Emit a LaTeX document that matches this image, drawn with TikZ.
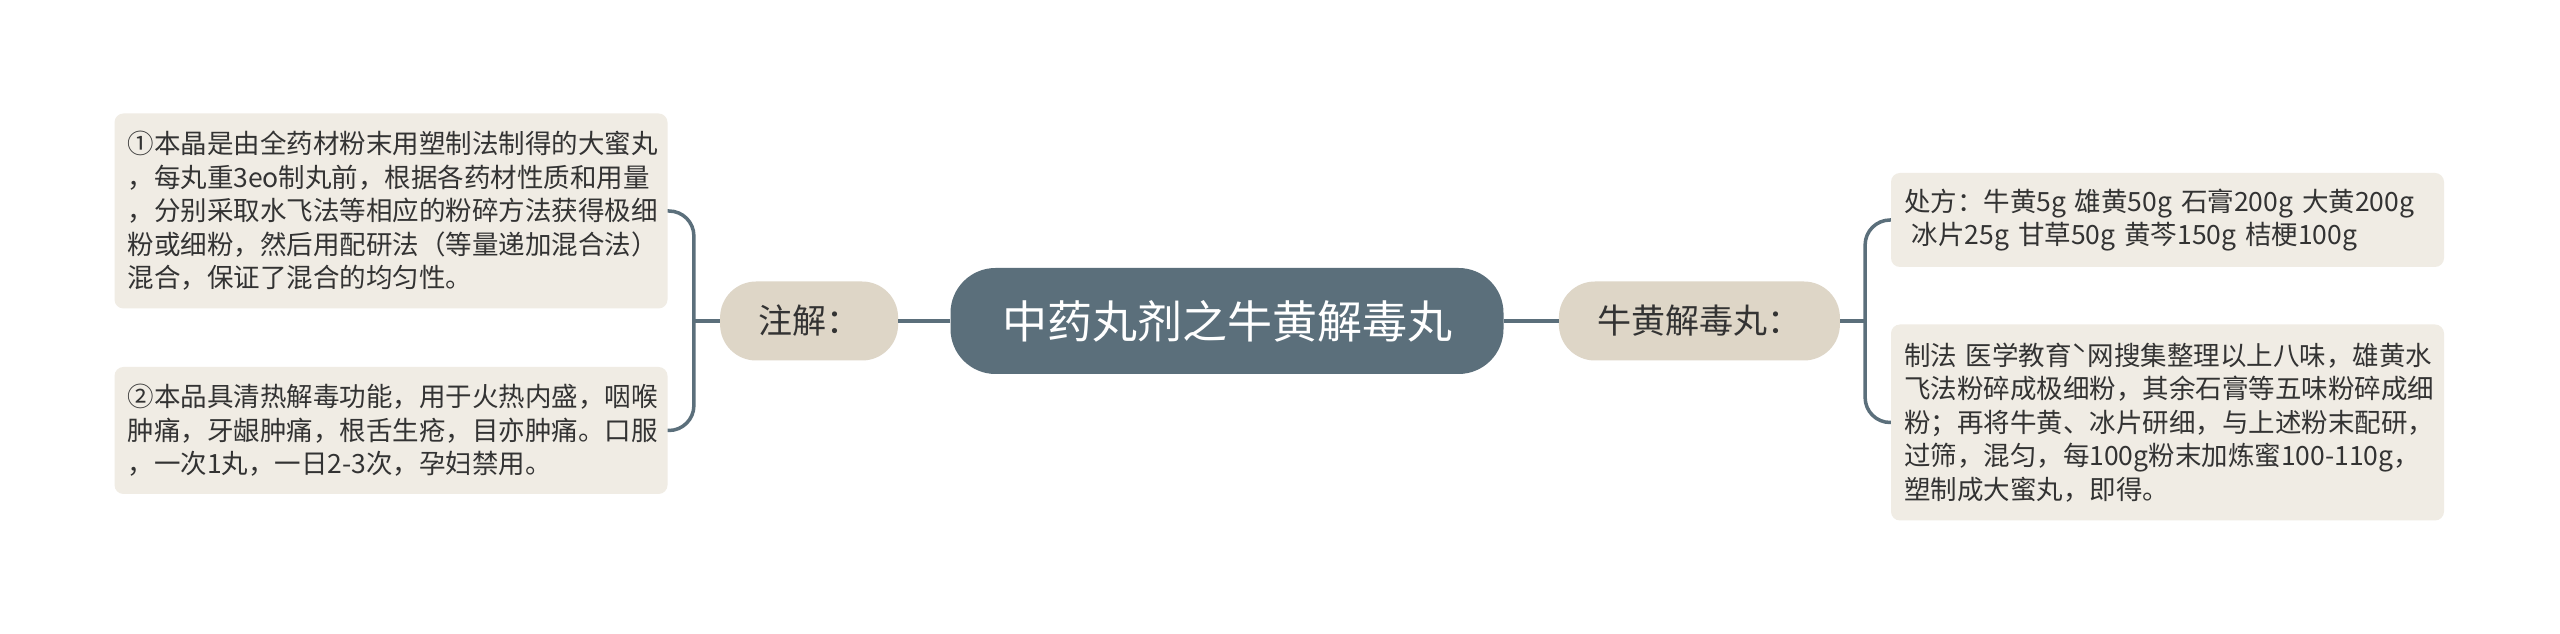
\documentclass[tikz,border=0pt]{standalone}
\usepackage{fontspec}
\setmainfont{Noto Sans CJK SC}
\usetikzlibrary{positioning}

\definecolor{rootblue}{RGB}{91,111,123}
\definecolor{subtan}{RGB}{222,214,199}
\definecolor{notebg}{RGB}{240,236,228}
\definecolor{inkgray}{RGB}{51,51,51}

\tikzset{
  rootnode/.style={fill=rootblue, text=white, rounded corners=45pt, minimum width=553pt, minimum height=106pt, font=\fontsize{45}{54}\selectfont},
  subnode/.style={fill=subtan, text=inkgray, rounded corners=36pt, minimum height=79pt, font=\fontsize{34}{40}\selectfont},
  notebox/.style={fill=notebg, text=inkgray, rounded corners=9pt, inner xsep=13pt, text width=527pt, align=left, font=\fontsize{26.5}{33.5}\selectfont},
  branch/.style={draw=rootblue, line width=3.5pt},
  curvedbranch/.style={branch, rounded corners=25pt}
}

\begin{document}
\begin{tikzpicture}[x=1pt,y=1pt]
            % Canvas
            \fill[white] (0,0) rectangle (2560,634);
            \useasboundingbox (0,0) rectangle (2560,634);

            % Root and first level
            \node[rootnode] (root) at (1227,313) {中药丸剂之牛黄解毒丸};
            \node[subnode, minimum width=178pt, left=52pt of root] (zhujie) {注解：};
            \node[subnode, minimum width=281pt, right=55pt of root] (niuhuang) {牛黄解毒丸：};

            % Notes on the left
            \node[notebox, minimum height=195pt] (zhu1) at (391,423) {①本晶是由全药材粉末用塑制法制得的大蜜丸\\，每丸重3eo制丸前，根据各药材性质和用量\\，分别采取水飞法等相应的粉碎方法获得极细\\粉或细粉，然后用配研法（等量递加混合法）\\混合，保证了混合的均匀性。};
            \node[notebox, minimum height=127pt] (zhu2) at (391,203.5) {②本品具清热解毒功能，用于火热内盛，咽喉\\肿痛，牙龈肿痛，根舌生疮，目亦肿痛。口服\\，一次1丸，一日2-3次，孕妇禁用。};

            % Notes on the right
            \node[notebox, minimum height=94pt] (fang) at (2167.5,414) {处方：牛黄5g 雄黄50g 石膏200g 大黄200g\\\hspace*{.3em}冰片25g 甘草50g 黄芩150g 桔梗100g};
            \node[notebox, minimum height=196pt] (zhifa) at (2167.5,211.5) {制法 医学教育ˋ网搜集整理以上八味，雄黄水\\飞法粉碎成极细粉，其余石膏等五味粉碎成细\\粉；再将牛黄、冰片研细，与上述粉末配研，\\过筛，混匀，每100g粉末加炼蜜100-110g，\\塑制成大蜜丸，即得。};

            % Connectors
            \draw[branch] (root) -- (zhujie);
            \draw[branch] (root) -- (niuhuang);
            \draw[branch] (zhujie.west) -- ++(-26pt,0) coordinate (zhuJ);
            \draw[curvedbranch] (zhuJ) |- (zhu1.east);
            \draw[curvedbranch] (zhuJ) |- (zhu2.east);
            \draw[branch] (niuhuang.east) -- ++(25pt,0) coordinate (niuJ);
            \draw[curvedbranch] (niuJ) |- (fang.west);
            \draw[curvedbranch] (niuJ) |- (zhifa.west);
\end{tikzpicture}
\end{document}
